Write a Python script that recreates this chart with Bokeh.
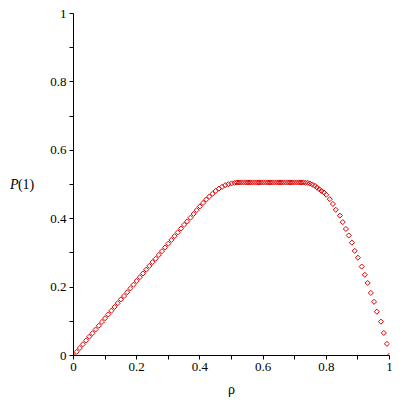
from bokeh.plotting import figure
from bokeh.models import Range1d, FixedTicker, LinearAxis
from bokeh.embed import file_html
from bokeh.resources import INLINE

# Data
rho_rise = [0.00, 0.01, 0.02, 0.03, 0.04, 0.05, 0.06, 0.07, 0.08, 0.09,
            0.10, 0.11, 0.12, 0.13, 0.14, 0.15, 0.16, 0.17, 0.18, 0.19,
            0.20, 0.21, 0.22, 0.23, 0.24, 0.25, 0.26, 0.27, 0.28, 0.29,
            0.30, 0.31, 0.32, 0.33, 0.34, 0.35, 0.36, 0.37, 0.38, 0.39,
            0.40, 0.41, 0.42, 0.43, 0.44, 0.45, 0.46, 0.47, 0.48, 0.49,
            0.50, 0.51]
p1_rise = [0.000, 0.011, 0.022, 0.033, 0.044, 0.055, 0.065, 0.076, 0.087, 0.098,
           0.109, 0.120, 0.131, 0.142, 0.153, 0.164, 0.174, 0.185, 0.196, 0.207,
           0.218, 0.229, 0.240, 0.251, 0.262, 0.273, 0.283, 0.294, 0.305, 0.316,
           0.327, 0.338, 0.349, 0.360, 0.371, 0.382, 0.392, 0.403, 0.414, 0.425,
           0.436, 0.446, 0.456, 0.465, 0.473, 0.481, 0.488, 0.493, 0.498, 0.501,
           0.503, 0.505]
rho_flat = [0.517, 0.524, 0.531, 0.538, 0.545, 0.552, 0.559, 0.566, 0.573, 0.580,
            0.587, 0.594, 0.601, 0.608, 0.615, 0.622, 0.629, 0.636, 0.643, 0.650,
            0.657, 0.664, 0.671, 0.678, 0.685, 0.692, 0.699, 0.706, 0.713, 0.720,
            0.727, 0.734, 0.741]
p1_flat = [0.506, 0.506, 0.506, 0.506, 0.506, 0.506, 0.506, 0.506, 0.506, 0.506,
           0.506, 0.506, 0.506, 0.506, 0.506, 0.506, 0.506, 0.506, 0.506, 0.506,
           0.506, 0.506, 0.506, 0.506, 0.506, 0.506, 0.506, 0.506, 0.506, 0.506,
           0.506, 0.505, 0.505]
rho_fall = [0.748, 0.756, 0.764, 0.771, 0.778, 0.785, 0.792, 0.800, 0.811, 0.821,
            0.830, 0.843, 0.852, 0.862, 0.871, 0.881, 0.890, 0.900, 0.912, 0.922,
            0.931, 0.941, 0.951, 0.960, 0.973, 0.982, 0.992, 1.000]
p1_fall = [0.503, 0.500, 0.496, 0.491, 0.486, 0.481, 0.477, 0.470, 0.457, 0.443,
           0.426, 0.409, 0.390, 0.370, 0.351, 0.330, 0.306, 0.286, 0.260, 0.236,
           0.212, 0.183, 0.157, 0.128, 0.099, 0.066, 0.034, 0.000]

rho = rho_rise + rho_flat + rho_fall
p1 = p1_rise + p1_flat + p1_fall

major_ticks = [0, 0.2, 0.4, 0.6, 0.8, 1]
minor_ticks = [0.1, 0.3, 0.5, 0.7, 0.9]
tick_labels = {0: "0", 0.2: "0.2", 0.4: "0.4", 0.6: "0.6", 0.8: "0.8", 1: "1"}

FONT = "Liberation Serif"

p = figure(width=400, height=400, output_backend="svg", toolbar_location=None,
           x_range=Range1d(0, 1), y_range=Range1d(0, 1),
           min_border_left=73, min_border_right=11, min_border_top=13,
           min_border_bottom=45)
p.outline_line_color = None
p.xgrid.visible = False
p.ygrid.visible = False
p.background_fill_color = "white"
p.border_fill_color = "white"

for ax in (p.xaxis[0], p.yaxis[0]):
    ax.ticker = FixedTicker(ticks=major_ticks, minor_ticks=minor_ticks)
    ax.major_label_overrides = tick_labels
    ax.major_label_text_font = FONT
    ax.major_label_text_font_size = "13px"
    ax.major_label_text_color = "black"
    ax.axis_line_color = "black"
    ax.major_tick_line_color = "black"
    ax.minor_tick_line_color = "black"
    ax.major_tick_out = 4
    ax.major_tick_in = 0
    ax.minor_tick_out = 4
    ax.minor_tick_in = 0
    ax.major_label_standoff = 3
    ax.axis_label_text_font = FONT
    ax.axis_label_text_font_style = "normal"
    ax.axis_label_text_color = "black"

p.xaxis.axis_label = "ρ"
p.xaxis.axis_label_text_font_size = "14px"
p.xaxis.axis_label_standoff = 8

p.yaxis.axis_label = "(1)"
p.yaxis.axis_label_orientation = "horizontal"
p.yaxis.axis_label_text_font_size = "14px"
p.yaxis.axis_label_standoff = 13

# italic "P" of the y label, drawn as the label of a bare extra axis
p_axis = LinearAxis(axis_label="P", axis_label_orientation="horizontal",
                    axis_label_text_font=FONT, axis_label_text_font_style="italic",
                    axis_label_text_font_size="14px", axis_label_standoff=-4,
                    axis_label_text_color="black",
                    axis_line_color=None, major_tick_line_color=None,
                    minor_tick_line_color=None, major_tick_out=0, minor_tick_out=0,
                    major_label_text_font_size="0px", major_label_standoff=0,
                    ticker=FixedTicker(ticks=[]))
p.add_layout(p_axis, "left")

p.scatter(rho, p1, marker="square", angle=0.785398, size=3.6,
          fill_color=None, line_color="#dd0000", line_width=1)

open("out.html", "w").write(file_html(p, INLINE))
